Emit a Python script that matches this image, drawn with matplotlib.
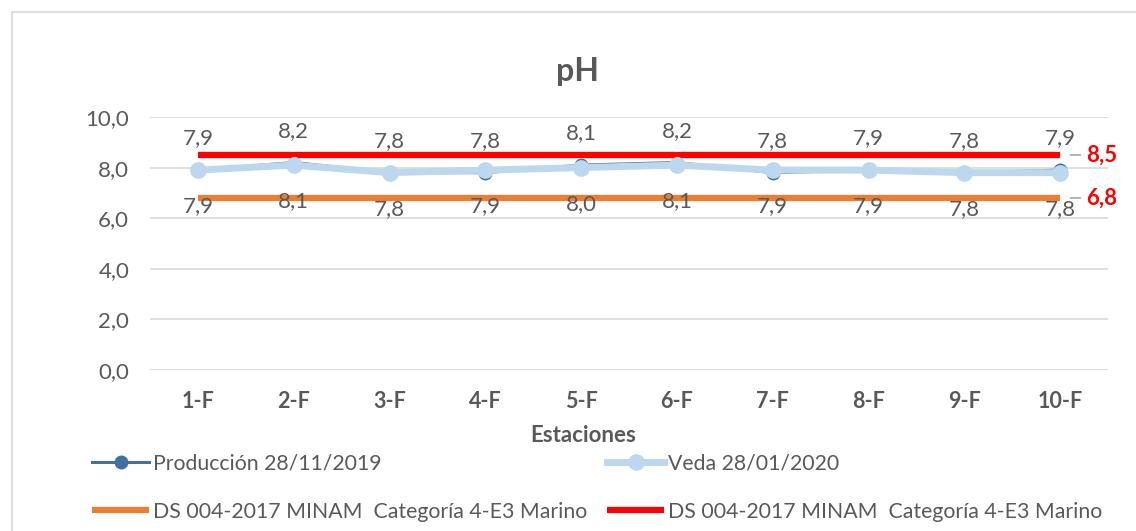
import matplotlib
matplotlib.use("Agg")
import matplotlib.pyplot as plt
from matplotlib.patches import Rectangle

estaciones = ["1-F", "2-F", "3-F", "4-F", "5-F", "6-F", "7-F", "8-F", "9-F", "10-F"]
produccion = [7.9, 8.2, 7.8, 7.8, 8.1, 8.2, 7.8, 7.9, 7.8, 7.9]
veda = [7.9, 8.1, 7.8, 7.9, 8.0, 8.1, 7.9, 7.9, 7.8, 7.8]
lim_min = [6.8] * 10
lim_max = [8.5] * 10
lbl_prod = "Producción 28/11/2019"
lbl_veda = "Veda 28/01/2020"
lbl_norm = "DS 004-2017 MINAM  Categoría 4-E3 Marino"

plt.rcParams['font.family'] = ['Lato', 'DejaVu Sans']
gray = "#595959"
fs = 16

fig = plt.figure(figsize=(11.36, 5.31), dpi=100)
fig.patches.append(Rectangle((12/1136, -0.1), 1.2, 1 - 12/531 + 0.1, transform=fig.transFigure,
                             fill=False, edgecolor="#d9d9d9", linewidth=1.2))
ax = fig.add_axes([150/1136, 1 - 370/531, 958/1136, 253/531])
x = list(range(len(estaciones)))

ax.plot(x, lim_min, color="#ED7D31", lw=4.5, zorder=2, label=lbl_norm, solid_capstyle="butt")
ax.plot(x, lim_max, color="#FF0000", lw=4.5, zorder=2, label=lbl_norm, solid_capstyle="butt")
ax.plot(x, produccion, color="#41719C", lw=2.2, marker="o", ms=9, zorder=3, label=lbl_prod)
ax.plot(x, veda, color="#BDD7EE", lw=5, marker="o", ms=11, zorder=4, label=lbl_veda)

for xi, v in zip(x, produccion):
    ax.annotate(f"{v:.1f}".replace(".", ","), (xi, v), xytext=(0, 23), textcoords="offset points",
                ha="center", va="center", fontsize=fs, color=gray)
for xi, v in zip(x, veda):
    ax.annotate(f"{v:.1f}".replace(".", ","), (xi, v), xytext=(0, -26), textcoords="offset points",
                ha="center", va="center", fontsize=fs, color=gray)

for v in (lim_max[-1], lim_min[-1]):
    ax.annotate(f"{v:.1f}".replace(".", ","), (x[-1] + 0.05, v), xytext=(x[-1] + 0.27, v),
                textcoords="data", ha="left", va="center", fontsize=fs, color="#FF0000",
                fontweight="bold", annotation_clip=False,
                arrowprops=dict(arrowstyle="-", color="#a6a6a6", lw=1.2, shrinkA=2, shrinkB=4))

ax.set_xlim(-0.5, 9.5)
ax.set_ylim(0, 10)
ax.set_yticks([0, 2, 4, 6, 8, 10])
ax.set_yticklabels([f"{t:.1f}".replace(".", ",") for t in [0, 2, 4, 6, 8, 10]], fontsize=fs, color=gray)
ax.set_xticks(x)
ax.set_xticklabels(estaciones, fontsize=fs - 0.5, color=gray, fontweight="bold")
ax.tick_params(axis="y", length=0, pad=15)
ax.tick_params(axis="x", length=0, pad=15)
ax.yaxis.grid(True, color="#d9d9d9", lw=1.2)
ax.set_axisbelow(True)
for s in ax.spines.values():
    s.set_visible(False)
fig.text(583/1136, 1 - 436/531, "Estaciones", ha="center", va="center", fontsize=fs,
         color=gray, fontweight="bold")
fig.text(577/1136, 1 - 72/531, "pH", ha="center", va="center", fontsize=23, fontweight="bold", color=gray)

h, l = ax.get_legend_handles_labels()
order = [2, 0, 3, 1]
fig.legend([h[i] for i in order], [l[i] for i in order], ncol=2, loc="upper left",
           bbox_to_anchor=(92/1136, 1 - 453/531), frameon=False, fontsize=15.3,
           handlelength=2.7, handletextpad=0.15, columnspacing=0.95, labelspacing=1.35,
           labelcolor=gray, borderpad=0, borderaxespad=0)

fig.savefig("out.png", dpi=100)
